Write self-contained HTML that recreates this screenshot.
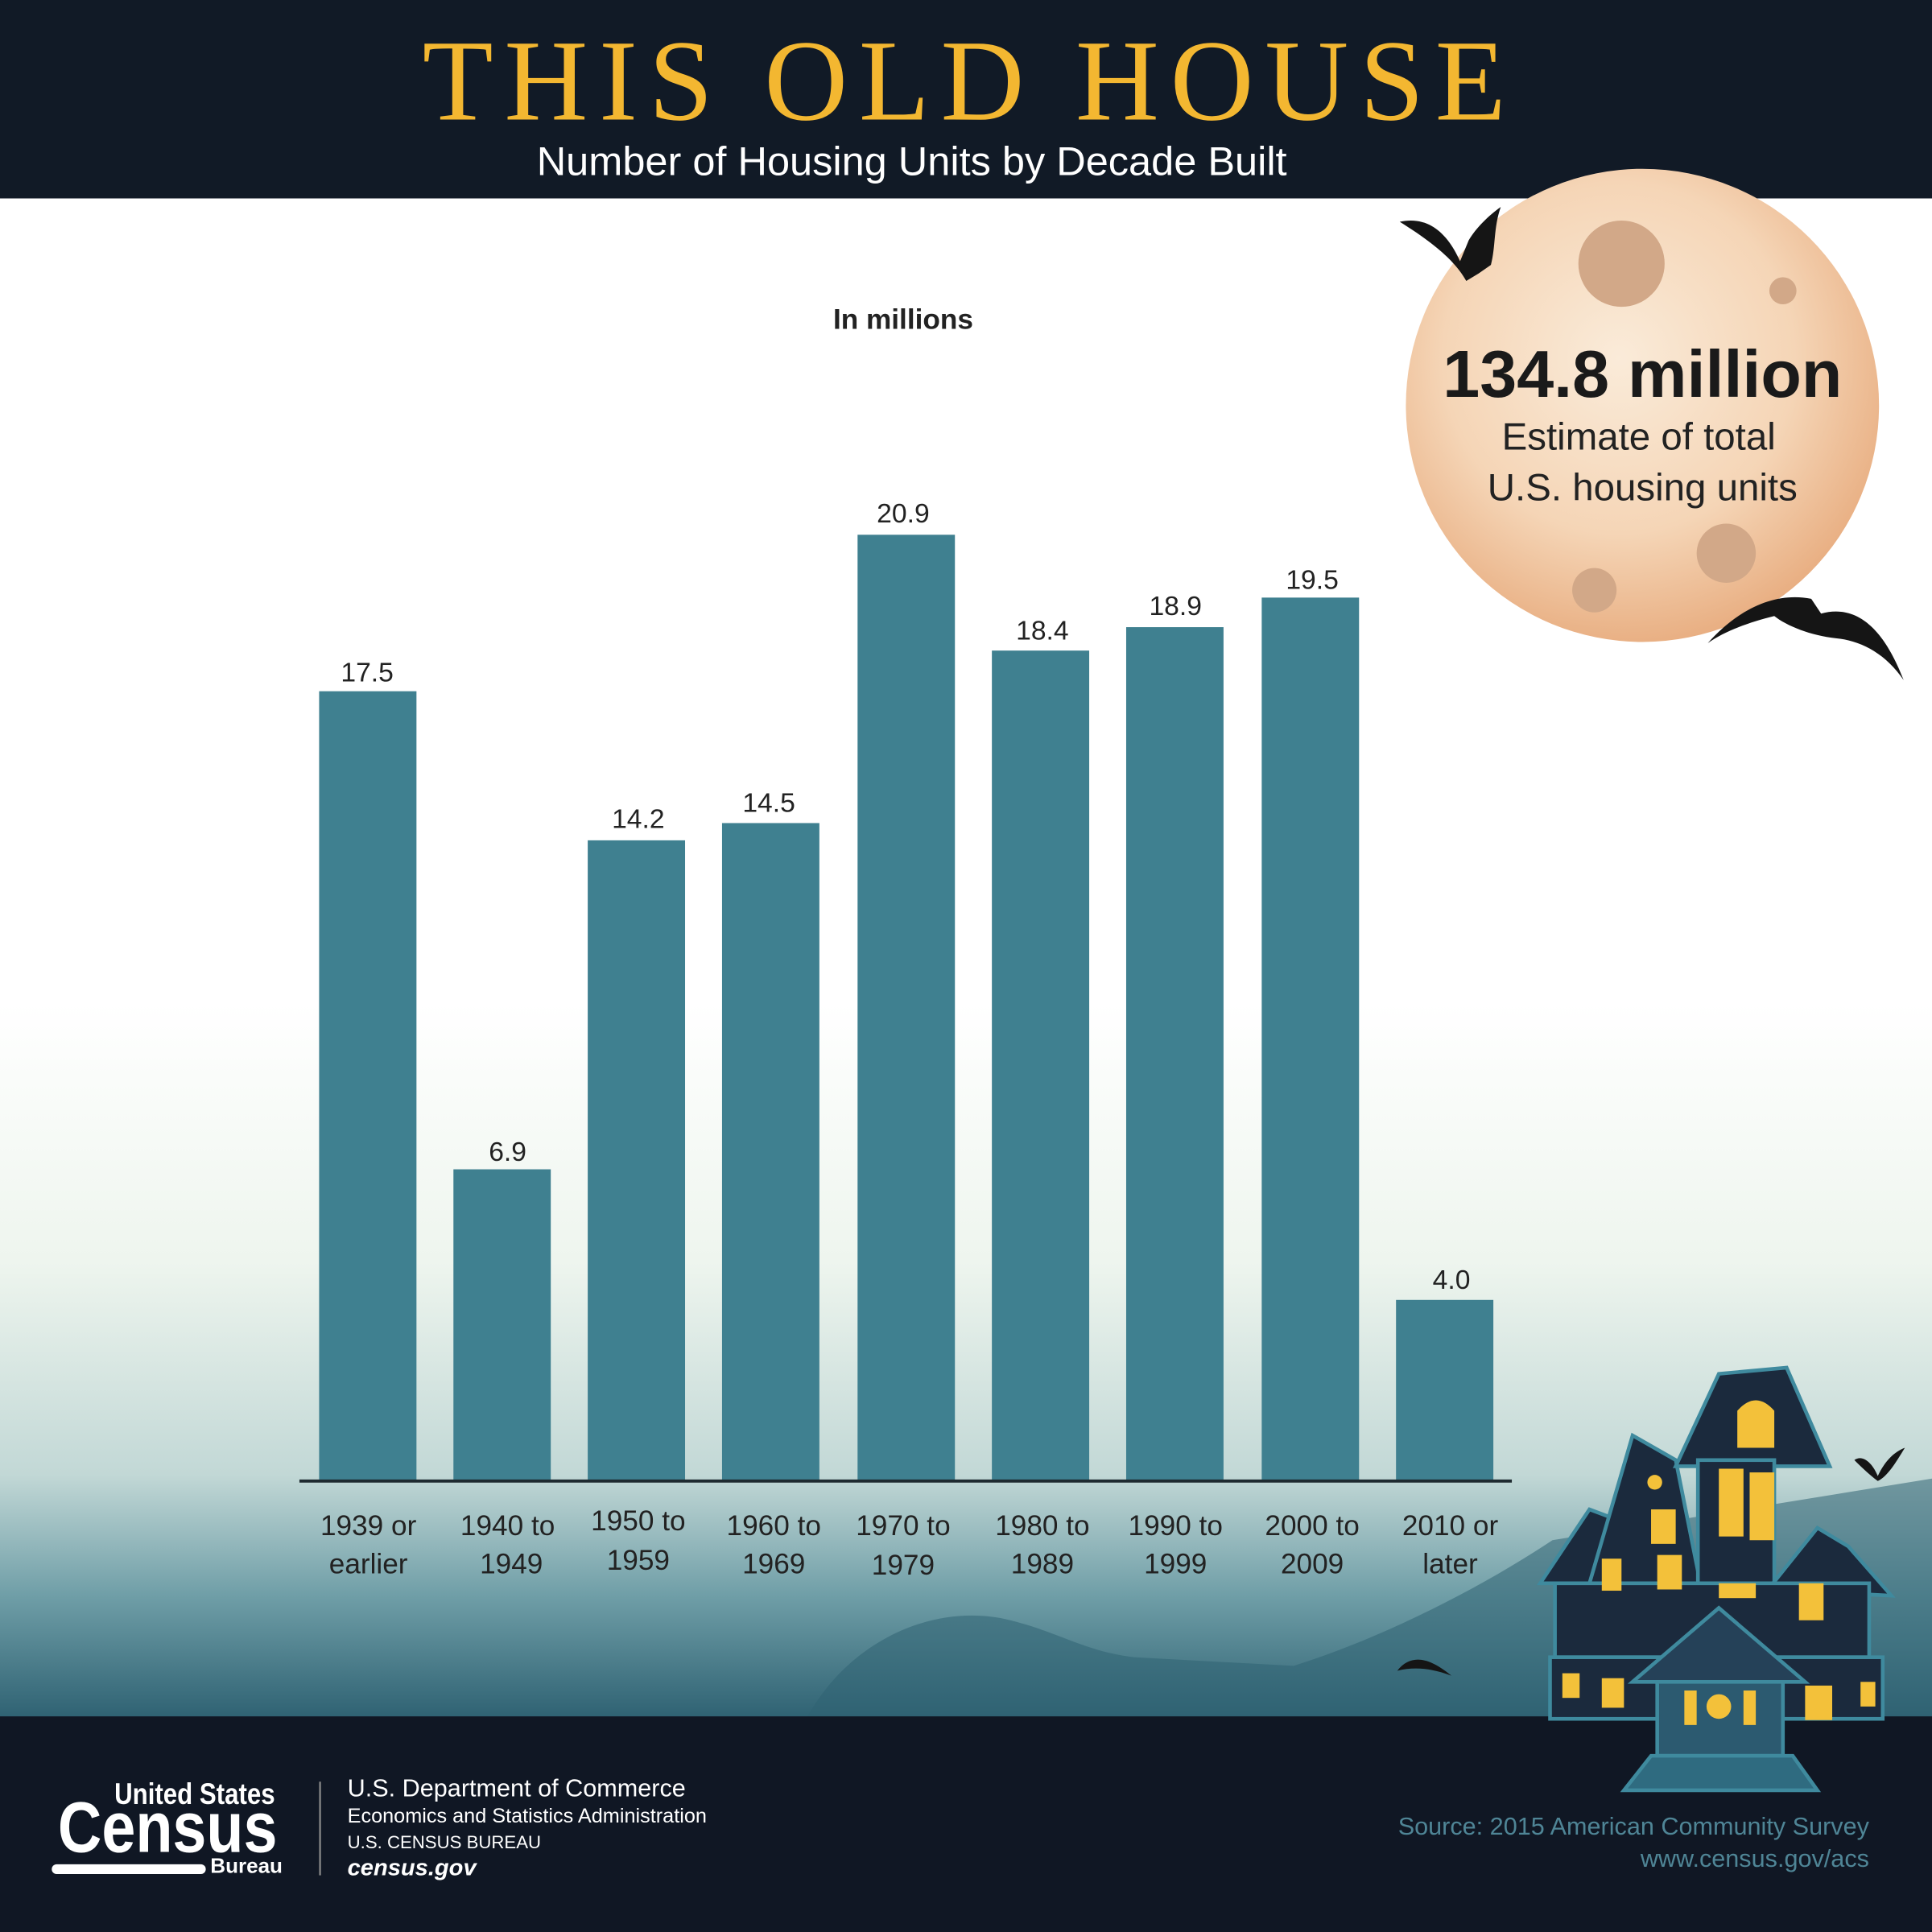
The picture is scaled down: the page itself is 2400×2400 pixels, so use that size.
<!DOCTYPE html>
<html><head><meta charset="utf-8"><style>
html,body{margin:0;padding:0;background:#101724}
svg{display:block}
</style></head><body>
<svg width="2400" height="2400" viewBox="0 0 1568 1568" xmlns="http://www.w3.org/2000/svg" font-family="Liberation Sans, DejaVu Sans, sans-serif">
<defs>
<linearGradient id="bg" x1="0" y1="0" x2="0" y2="1">
<stop offset="0" stop-color="#ffffff"/>
<stop offset="0.53" stop-color="#ffffff"/>
<stop offset="0.7" stop-color="#eef5ee"/>
<stop offset="0.84" stop-color="#c2d8d6"/>
<stop offset="0.92" stop-color="#6f9ea7"/>
<stop offset="1" stop-color="#2f6273"/>
</linearGradient>
<radialGradient id="moon" cx="0.45" cy="0.4" r="0.62">
<stop offset="0" stop-color="#faebd9"/>
<stop offset="0.6" stop-color="#f5d5b6"/>
<stop offset="1" stop-color="#e8ad80"/>
</radialGradient>
</defs>
<rect x="0" y="161" width="1568" height="1233" fill="url(#bg)"/>
<path d="M655 1394 C690 1330 760 1300 820 1315 C860 1325 880 1340 920 1345 L1050 1352 C1120 1330 1200 1290 1260 1250 L1568 1200 L1568 1394 Z" fill="#2f6273" opacity="0.55"/>
<rect x="0" y="0" width="1568" height="161" fill="#111a26"/>
<text x="787" y="97" text-anchor="middle" font-family="Liberation Serif, serif" font-size="94" fill="#f3b731" letter-spacing="9">THIS OLD HOUSE</text>
<text x="740" y="142" text-anchor="middle" font-size="33" fill="#ffffff">Number of Housing Units by Decade Built</text>
<circle cx="1333" cy="329" r="192" fill="url(#moon)"/>
<circle cx="1316" cy="214" r="35" fill="#d2a888"/>
<circle cx="1447" cy="236" r="11" fill="#d2a888"/>
<circle cx="1401" cy="449" r="24" fill="#d2a888"/>
<circle cx="1294" cy="479" r="18" fill="#d2a888"/>
<text x="1333" y="322" text-anchor="middle" font-size="54" font-weight="bold" fill="#1a1a1a">134.8 million</text>
<text x="1330" y="365" text-anchor="middle" font-size="31" fill="#222">Estimate of total</text>
<text x="1333" y="406" text-anchor="middle" font-size="31" fill="#222">U.S. housing units</text>
<path d="M1136 180 C1160 175 1175 190 1185 212 L1192 195 C1198 185 1208 175 1218 168 C1212 185 1214 200 1210 215 L1200 222 L1190 228 C1180 210 1160 195 1136 180Z" fill="#151515"/>
<path d="M1386 522 C1410 495 1440 480 1470 486 L1478 498 C1500 492 1525 500 1545 552 C1530 530 1510 520 1490 518 C1470 516 1450 508 1440 500 C1420 505 1400 512 1386 522Z" fill="#151515"/>
<path d="M1505 1185 C1512 1180 1520 1188 1524 1198 C1530 1185 1538 1178 1546 1175 C1538 1188 1532 1198 1524 1202 C1516 1196 1510 1190 1505 1185Z" fill="#151515"/>
<path d="M1134 1356 C1145 1342 1160 1345 1178 1360 C1165 1355 1150 1352 1134 1356Z" fill="#151515"/>
<text x="733" y="267" text-anchor="middle" font-size="23" font-weight="bold" fill="#222">In millions</text>
<g fill="#3f8090">
<rect x="259" y="561" width="79" height="640"/>
<rect x="368" y="949" width="79" height="252"/>
<rect x="477" y="682" width="79" height="519"/>
<rect x="586" y="668" width="79" height="533"/>
<rect x="696" y="434" width="79" height="767"/>
<rect x="805" y="528" width="79" height="673"/>
<rect x="914" y="509" width="79" height="692"/>
<rect x="1024" y="485" width="79" height="716"/>
<rect x="1133" y="1055" width="79" height="146"/>
</g>
<line x1="243" y1="1202" x2="1227" y2="1202" stroke="#1e2a30" stroke-width="2.5"/>
<g font-size="22" fill="#222" text-anchor="middle">
<text x="298" y="553">17.5</text>
<text x="412" y="942">6.9</text>
<text x="518" y="672">14.2</text>
<text x="624" y="659">14.5</text>
<text x="733" y="424">20.9</text>
<text x="846" y="519">18.4</text>
<text x="954" y="499">18.9</text>
<text x="1065" y="478">19.5</text>
<text x="1178" y="1046">4.0</text>
</g>
<g font-size="23" fill="#222" text-anchor="middle">
<text x="299" y="1246">1939 or</text><text x="299" y="1277">earlier</text>
<text x="412" y="1246">1940 to</text><text x="415" y="1277">1949</text>
<text x="518" y="1242">1950 to</text><text x="518" y="1274">1959</text>
<text x="628" y="1246">1960 to</text><text x="628" y="1277">1969</text>
<text x="733" y="1246">1970 to</text><text x="733" y="1278">1979</text>
<text x="846" y="1246">1980 to</text><text x="846" y="1277">1989</text>
<text x="954" y="1246">1990 to</text><text x="954" y="1277">1999</text>
<text x="1065" y="1246">2000 to</text><text x="1065" y="1277">2009</text>
<text x="1177" y="1246">2010 or</text><text x="1177" y="1277">later</text>
</g>
<rect x="0" y="1393" width="1568" height="175" fill="#101724"/>
<g stroke="#3f8a9e" stroke-width="3" fill="#1b2a3d">
<path d="M1250 1285 L1290 1225 L1330 1240 L1340 1285 Z"/>
<path d="M1290 1285 L1325 1165 L1360 1185 L1380 1285 Z"/>
<path d="M1360 1190 L1395 1115 L1450 1110 L1485 1190 Z"/>
<rect x="1378" y="1185" width="62" height="100"/>
<path d="M1435 1290 L1475 1240 L1500 1255 L1535 1295 Z"/>
<rect x="1262" y="1285" width="255" height="60"/>
<rect x="1258" y="1345" width="270" height="50"/>
<path d="M1325 1365 L1395 1305 L1465 1365 Z" fill="#254158"/>
<rect x="1345" y="1365" width="102" height="60" fill="#2c5a70"/>
<path d="M1318 1453 L1340 1425 L1455 1425 L1475 1453 Z" fill="#2f6b80"/>
</g>
<g fill="#f3c13a">
<path d="M1410 1175 L1410 1145 Q1425 1128 1440 1145 L1440 1175Z"/>
<rect x="1395" y="1192" width="20" height="55"/><rect x="1420" y="1195" width="20" height="55"/>
<rect x="1340" y="1225" width="20" height="28"/><circle cx="1343" cy="1203" r="6"/>
<rect x="1345" y="1262" width="20" height="28"/><rect x="1300" y="1265" width="16" height="26"/>
<rect x="1460" y="1285" width="20" height="30"/>
<rect x="1268" y="1358" width="14" height="20"/><rect x="1300" y="1362" width="18" height="24"/>
<rect x="1465" y="1368" width="22" height="28"/><rect x="1510" y="1365" width="12" height="20"/>
<rect x="1367" y="1372" width="10" height="28"/><rect x="1415" y="1372" width="10" height="28"/>
<circle cx="1395" cy="1385" r="10"/><rect x="1395" y="1285" width="30" height="12"/>
</g>
<g fill="#ffffff">
<text x="158" y="1464" text-anchor="middle" font-size="24" font-weight="bold" transform="translate(158 0) scale(0.85 1) translate(-158 0)">United States</text>
<text x="136" y="1503" text-anchor="middle" font-size="58" font-weight="bold" transform="translate(136 0) scale(0.85 1) translate(-136 0)">Census</text>
<rect x="42" y="1513" width="125" height="8" rx="4"/>
<text x="200" y="1520" text-anchor="middle" font-size="17" font-weight="bold">Bureau</text>
<rect x="259" y="1446" width="1.5" height="76" fill="#888"/>
<text x="282" y="1458" font-size="20">U.S. Department of Commerce</text>
<text x="282" y="1479" font-size="16.5">Economics and Statistics Administration</text>
<text x="282" y="1500" font-size="14.5">U.S. CENSUS BUREAU</text>
<text x="282" y="1522" font-size="19" font-weight="bold" font-style="italic">census.gov</text>
</g>
<text x="1517" y="1489" text-anchor="end" font-size="20" fill="#4f8596">Source: 2015 American Community Survey</text>
<text x="1517" y="1515" text-anchor="end" font-size="20" fill="#4f8596">www.census.gov/acs</text>
</svg>
</body></html>
